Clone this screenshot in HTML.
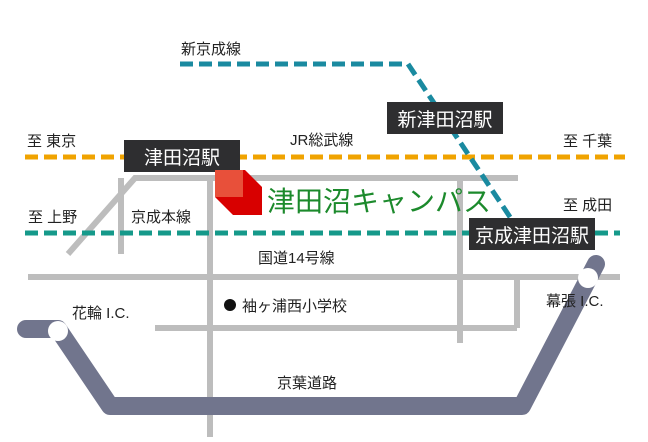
<!DOCTYPE html>
<html><head><meta charset="utf-8"><style>
html,body{margin:0;padding:0;background:#fff;}
svg{display:block;}
text{font-family:"Liberation Sans","Noto Sans CJK JP",sans-serif;fill:#222;}
</style></head><body>
<svg width="648" height="442" viewBox="0 0 648 442" xmlns="http://www.w3.org/2000/svg">
<rect width="648" height="442" fill="#fff"/>
<g stroke="#bdbdbd" stroke-width="6" fill="none">
<polyline points="68,254 135,178 518,178"/>
<line x1="121" y1="178" x2="121" y2="254"/>
<line x1="210" y1="178" x2="210" y2="437"/>
<line x1="28" y1="277" x2="620" y2="277"/>
<line x1="155" y1="328" x2="517" y2="328"/>
<line x1="460" y1="178" x2="460" y2="343"/>
<line x1="517" y1="277" x2="517" y2="328"/>
</g>
<polyline points="26,329 58,329 110,406 522,406 596,264" fill="none" stroke="#71758d" stroke-width="18" stroke-linejoin="round" stroke-linecap="round"/>
<circle cx="58" cy="331" r="10" fill="#fff"/>
<circle cx="588" cy="278" r="10" fill="#fff"/>
<line x1="25" y1="157" x2="625" y2="157" stroke="#f0a300" stroke-width="5" stroke-dasharray="13,6"/>
<line x1="25" y1="233" x2="620" y2="233" stroke="#15998a" stroke-width="5" stroke-dasharray="13,6"/>
<polyline points="180,64 408,64 512,220" fill="none" stroke="#1a8aa0" stroke-width="5" stroke-dasharray="13,6"/>
<rect x="124" y="140" width="116" height="32" fill="#2e2e30"/>
<text x="182" y="164" font-size="19" text-anchor="middle" style="fill:#fff">津田沼駅</text>
<rect x="387" y="102" width="116" height="32" fill="#2e2e30"/>
<text x="445" y="126" font-size="19" text-anchor="middle" style="fill:#fff">新津田沼駅</text>
<rect x="469" y="218" width="126" height="32" fill="#2e2e30"/>
<text x="532" y="242" font-size="19" text-anchor="middle" style="fill:#fff">京成津田沼駅</text>
<polygon points="215,170 245,170 262,187 262,215 233,215 215,197" fill="#d80000"/>
<rect x="215" y="170" width="28" height="27" fill="#e8503a"/>
<text x="267" y="211" font-size="28" style="fill:#1c8a2c">津田沼キャンパス</text>
<g font-size="15">
<text x="181" y="54">新京成線</text>
<text x="27" y="146">至 東京</text>
<text x="290" y="145">JR総武線</text>
<text x="563" y="146">至 千葉</text>
<text x="28" y="222">至 上野</text>
<text x="131" y="222">京成本線</text>
<text x="563" y="210">至 成田</text>
<text x="258" y="263">国道14号線</text>
<text x="242" y="311">袖ヶ浦西小学校</text>
<text x="72" y="318">花輪 I.C.</text>
<text x="546" y="306">幕張 I.C.</text>
<text x="277" y="388">京葉道路</text>
</g>
<circle cx="230" cy="305" r="6" fill="#111"/>
</svg>
</body></html>
